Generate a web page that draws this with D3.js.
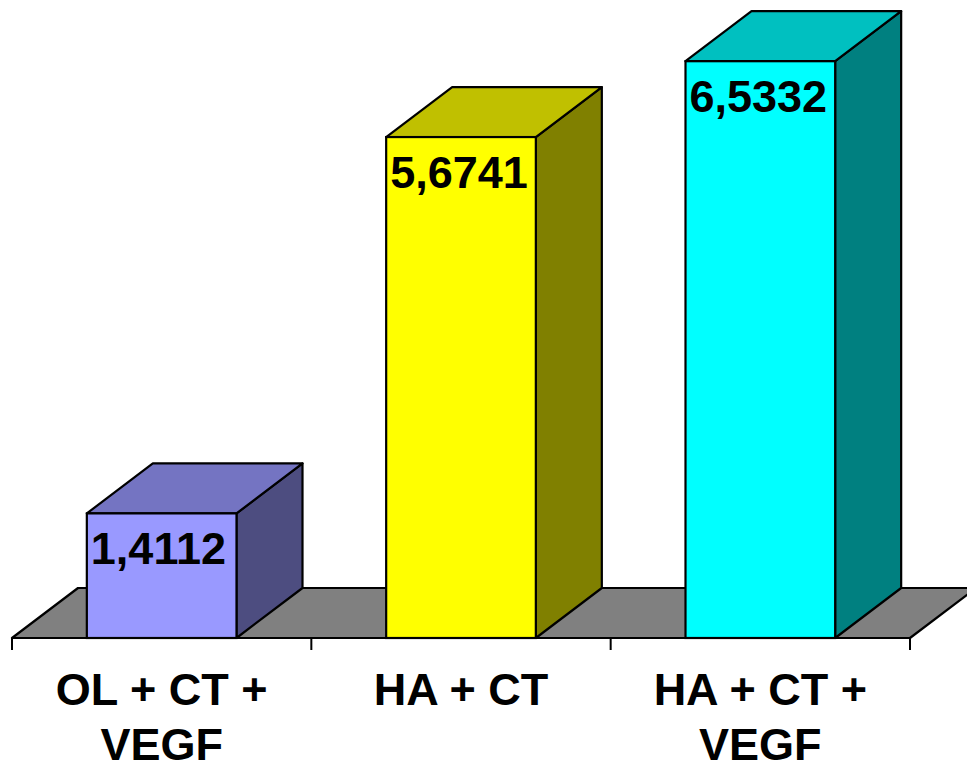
<!DOCTYPE html>
<html>
<head>
<meta charset="utf-8">
<script src="https://cdn.jsdelivr.net/npm/d3@7"></script>
<style>
  html, body { margin: 0; padding: 0; background: #fff; }
  svg { display: block; }
</style>
</head>
<body>
<svg id="chart" width="967" height="762"></svg>
<script>
// Categories, values and colours for the three 3D columns
const categories = ["OL + CT + VEGF", "HA + CT", "HA + CT + VEGF"];
const labelLines = [["OL + CT +", "VEGF"], ["HA + CT"], ["HA + CT +", "VEGF"]];
const values = [1.4112, 5.6741, 6.5332];
const valueLabels = ["1,4112", "5,6741", "6,5332"];
const frontColors = ["#9999FF", "#FFFF00", "#00FFFF"];
const topColors = ["#7474C2", "#C0C000", "#00C0C0"];
const sideColors = ["#4D4D80", "#808000", "#008080"];

const svg = d3.select("#chart");
const depthX = 66, depthY = -50;   // oblique projection offset for the depth axis

const x = d3.scaleBand()
  .domain(categories)
  .range([12, 910])
  .paddingInner(0.5)
  .paddingOuter(0.25);

const y = d3.scaleLinear()
  .domain([0, 7])
  .range([638, 20]);

const base = y(0);
const font = "'Liberation Sans', Arial, Helvetica, sans-serif";

// Grey floor under the columns
const [x0, x1] = x.range();
svg.append("polygon")
  .attr("points", [
    [x0, base], [x1, base], [x1 + depthX, base + depthY], [x0 + depthX, base + depthY]
  ].map(p => p.join(",")).join(" "))
  .attr("fill", "#808080")
  .attr("stroke", "#000")
  .attr("stroke-width", 2.2)
  .attr("stroke-linejoin", "round");

// Tick marks at the category boundaries
const step = x.step();
const tickXs = d3.range(categories.length + 1).map(i => x0 + i * step);
svg.append("g").selectAll("line")
  .data(tickXs)
  .join("line")
  .attr("x1", d => d).attr("x2", d => d)
  .attr("y1", base).attr("y2", base + 12)
  .attr("stroke", "#000")
  .attr("stroke-width", 2);

// Columns: side face, top face, then front face
const bars = svg.append("g").selectAll("g")
  .data(categories.map((c, i) => ({ c, i, v: values[i] })))
  .join("g");

bars.each(function(d) {
  const g = d3.select(this);
  const l = x(d.c), r = l + x.bandwidth();
  const t = y(d.v), b = base;
  const pts = arr => arr.map(p => p.join(",")).join(" ");
  g.append("polygon")
    .attr("points", pts([[r, b], [r + depthX, b + depthY], [r + depthX, t + depthY], [r, t]]))
    .attr("fill", sideColors[d.i]).attr("stroke", "#000").attr("stroke-width", 2.2)
    .attr("stroke-linejoin", "round");
  g.append("polygon")
    .attr("points", pts([[l, t], [r, t], [r + depthX, t + depthY], [l + depthX, t + depthY]]))
    .attr("fill", topColors[d.i]).attr("stroke", "#000").attr("stroke-width", 2.2)
    .attr("stroke-linejoin", "round");
  g.append("rect")
    .attr("x", l).attr("y", t)
    .attr("width", r - l).attr("height", b - t)
    .attr("fill", frontColors[d.i]).attr("stroke", "#000").attr("stroke-width", 2.2);
  g.append("text")
    .attr("x", l + 4)
    .attr("y", t + 51)
    .attr("font-family", font)
    .attr("font-weight", "bold")
    .attr("font-size", 45)
    .attr("fill", "#000")
    .text(valueLabels[d.i]);
});

// Category labels below the floor
const labels = svg.append("g").selectAll("text")
  .data(categories.map((c, i) => ({ c, i })))
  .join("text")
  .attr("x", d => x(d.c) + x.bandwidth() / 2)
  .attr("y", 705)
  .attr("text-anchor", "middle")
  .attr("font-family", font)
  .attr("font-weight", "bold")
  .attr("font-size", 45)
  .attr("fill", "#000");

labels.selectAll("tspan")
  .data(d => labelLines[d.i].map(s => ({ s, x: x(d.c) + x.bandwidth() / 2 })))
  .join("tspan")
  .attr("x", d => d.x)
  .attr("dy", (d, j) => j === 0 ? 0 : 55)
  .text(d => d.s);
</script>
</body>
</html>
